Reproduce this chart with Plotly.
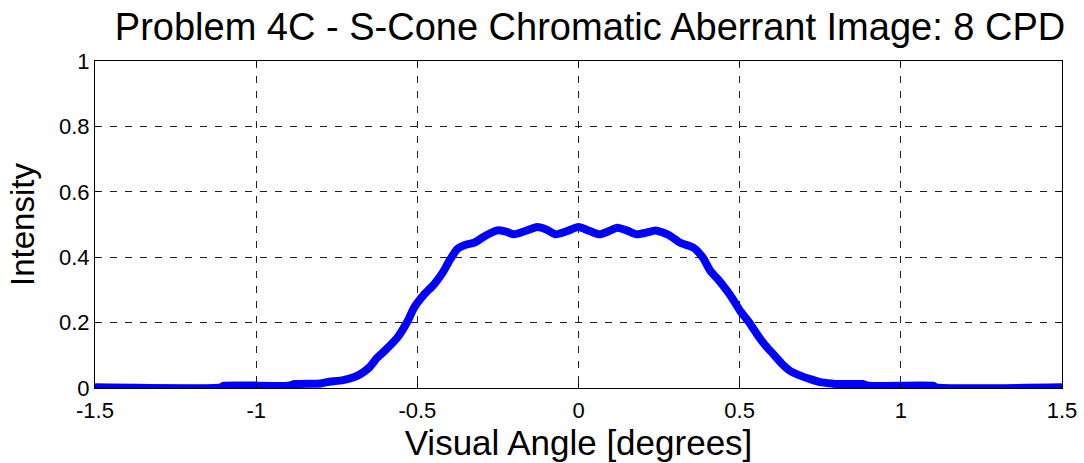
import plotly.graph_objects as go

angle_deg = [-1.50, -1.11, -1.10, -0.90, -0.88, -0.80, -0.78, -0.73, -0.70, -0.676, -0.65,
             -0.624, -0.60, -0.562, -0.53, -0.51, -0.48, -0.448, -0.42, -0.40, -0.376, -0.35,
             -0.324, -0.29, -0.252, -0.225, -0.20, -0.165, -0.128, -0.10, -0.071, -0.035, 0.0,
             0.035, 0.065, 0.095, 0.12, 0.15, 0.18, 0.21, 0.239, 0.28, 0.316, 0.357, 0.385,
             0.409, 0.435, 0.461, 0.48, 0.502, 0.53, 0.554, 0.58, 0.605, 0.63, 0.657, 0.69,
             0.719, 0.75, 0.791, 0.80, 0.88, 0.90, 1.10, 1.11, 1.50]
intensity = [0.002, 0.002, 0.007, 0.007, 0.012, 0.014, 0.018, 0.024, 0.032, 0.043, 0.062,
             0.093, 0.115, 0.154, 0.205, 0.246, 0.285, 0.317, 0.355, 0.39, 0.425, 0.438,
             0.444, 0.465, 0.482, 0.478, 0.47, 0.48, 0.492, 0.485, 0.47, 0.48, 0.492,
             0.48, 0.47, 0.48, 0.49, 0.482, 0.47, 0.475, 0.482, 0.468, 0.444, 0.429, 0.40,
             0.358, 0.33, 0.297, 0.27, 0.235, 0.20, 0.164, 0.13, 0.103, 0.075, 0.052, 0.037,
             0.027, 0.018, 0.013, 0.012, 0.012, 0.007, 0.007, 0.002, 0.002]

x_ticks = [-1.5, -1, -0.5, 0, 0.5, 1, 1.5]
x_tick_labels = ["-1.5", "-1", "-0.5", "0", "0.5", "1", "1.5"]
y_ticks = [0, 0.2, 0.4, 0.6, 0.8, 1]
y_tick_labels = ["0", "0.2", "0.4", "0.6", "0.8", "1"]

font_family = "Liberation Sans, Arial, sans-serif"

fig = go.Figure()
fig.add_trace(go.Scatter(x=angle_deg, y=intensity, mode="lines",
                         line=dict(color="#0000FF", width=8, shape="spline", smoothing=0.6),
                         showlegend=False))

axis_common = dict(showline=True, linecolor="black", linewidth=1, mirror="ticks",
                   ticks="inside", ticklen=5, tickcolor="black",
                   showgrid=True, gridcolor="#222222", gridwidth=1, griddash="7px,8px",
                   zeroline=False, tickfont=dict(size=22, color="black", family=font_family))

fig.update_xaxes(range=[-1.5, 1.5], tickvals=x_ticks, ticktext=x_tick_labels,
                 ticklabelstandoff=3,
                 title=dict(text="Visual Angle [degrees]", font=dict(size=35, color="black", family=font_family), standoff=2),
                 **axis_common)
fig.update_yaxes(range=[0, 1], tickvals=y_ticks, ticktext=y_tick_labels,
                 title=dict(text="Intensity", font=dict(size=33, color="black", family=font_family), standoff=14),
                 **axis_common)

fig.update_layout(
    width=1084, height=463,
    margin=dict(l=95, r=22, t=61, b=75, autoexpand=False),
    paper_bgcolor="white", plot_bgcolor="white",
    title=dict(text="Problem 4C - S-Cone Chromatic Aberrant Image: 8 CPD",
               font=dict(size=38, color="black", family=font_family),
               x=590 / 1084, xanchor="center", xref="container",
               y=1 - 27 / 463, yanchor="middle", yref="container"),
)

fig.write_html("out.html")
